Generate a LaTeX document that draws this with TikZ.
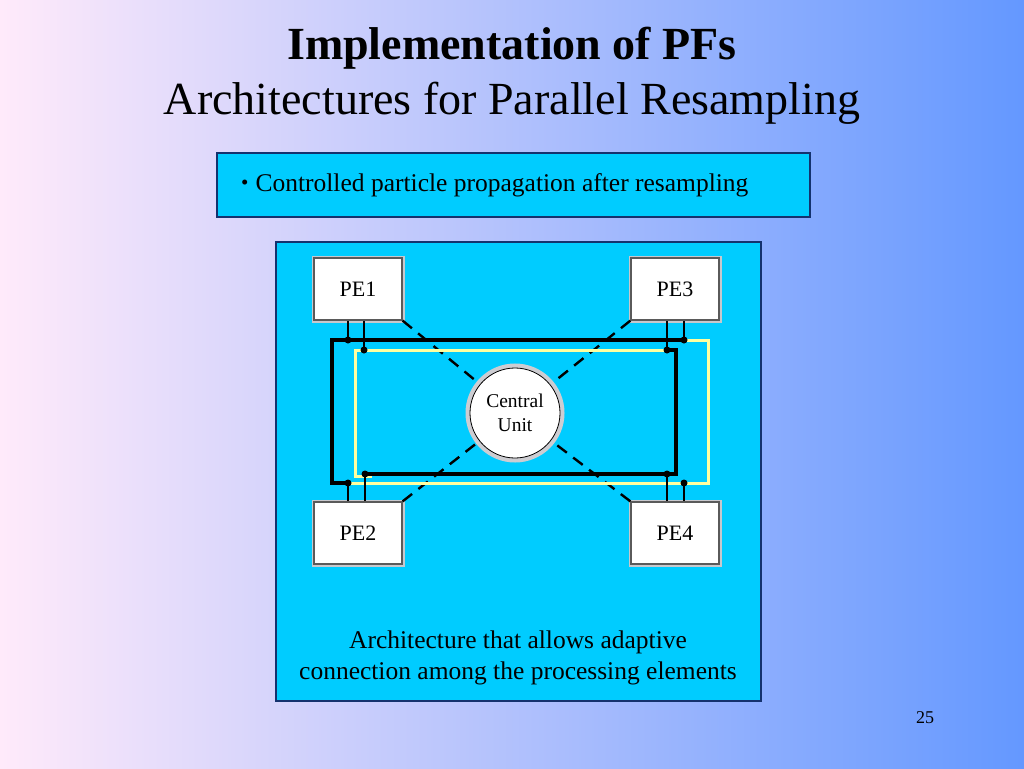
\documentclass[tikz,border=0pt]{standalone}
\usepackage{fontspec}
\setmainfont{Liberation Serif}
\begin{document}
\begin{tikzpicture}[x=1pt,y=-1pt,
  cyanbox/.style={draw={rgb,255:red,20;green,50;blue,110},fill={rgb,255:red,0;green,204;blue,255},inner sep=0pt},
  pebox/.style={draw={rgb,255:red,90;green,90;blue,90},line width=1.3pt,fill=white,
     preaction={draw={rgb,255:red,200;green,200;blue,205},line width=5pt},
     minimum width=88pt,minimum height=62pt,inner sep=0pt,font=\fontsize{22}{26}\selectfont},
  bus/.style={line width=3.2pt,line join=miter},
  ybus/.style={line width=3pt,draw={rgb,255:red,255;green,255;blue,160},line join=miter},
  pin/.style={line width=1.1pt},
  dot/.style={circle,fill=black,inner sep=0pt,minimum size=7pt},
  dashline/.style={line width=2.4pt,dash pattern=on 12pt off 8pt}]
\useasboundingbox (0,0) rectangle (1024,768);
\shade[left color={rgb,255:red,255;green,234;blue,250},middle color={rgb,255:red,184;green,212;blue,242},right color={rgb,255:red,100;green,152;blue,255}] (0,0) rectangle (1024,768);

% titles
\node[font=\fontsize{46}{52}\selectfont\bfseries] (t1) at (512,48) {Implementation of PFs};
\node[font=\fontsize{46}{52}\selectfont] (t2) at (512,103) {Architectures for Parallel Resampling};

% top box
\node[cyanbox,line width=2.5pt,minimum width=593pt,minimum height=64pt] (topbox) at (513.5,185) {};
\node[anchor=west,font=\fontsize{25.5}{30}\selectfont,inner sep=0pt] (bul) at (241,185) {\raisebox{1.5pt}{\fontsize{21}{21}\selectfont\textbullet}\hspace{7pt}Controlled particle propagation after resampling};

% big box
\node[cyanbox,line width=2pt,minimum width=485pt,minimum height=459pt] (big) at (518.5,471.5) {};

% PE boxes
\node[pebox] (pe1) at (358,289) {PE1};
\node[pebox] (pe3) at (675,289) {PE3};
\node[pebox] (pe2) at (358,533) {PE2};
\node[pebox] (pe4) at (675,533) {PE4};

% dashed lines to the central unit
\coordinate (cuc) at (515,413);
\draw[dashline,shorten >=50pt] (pe1.south east) -- (cuc);
\draw[dashline,shorten >=50pt] (pe3.south west) -- (cuc);
\draw[dashline,shorten >=50pt] (pe2.north east) -- (cuc);
\draw[dashline,shorten >=50pt] (pe4.north west) -- (cuc);

% bus coordinates
\coordinate (a1) at (348,340);
\coordinate (a3) at (684,340);
\coordinate (a2) at (348,483);
\coordinate (b1) at (364,350);
\coordinate (b3) at (667,350);
\coordinate (b4) at (667,474);
\coordinate (b2) at (365,474);
\coordinate (y4) at (684,483);

% yellow bus
\draw[ybus] (b3) -- (355,350) -- (355,476) -- (372,476);
\draw[ybus] (a3) -- (708,340) -- (708,483) -- (a2);

% black buses
\draw[bus] (a3) -- (332,340) -- (332,483) -- (a2);
\draw[bus] (b3) -- (676,350) -- (676,474) -- (b2);

% pins
\draw[pin] (a1) -- (a1 |- pe1.south);
\draw[pin] (b1) -- (b1 |- pe1.south);
\draw[pin] (b3) -- (b3 |- pe3.south);
\draw[pin] (a3) -- (a3 |- pe3.south);
\draw[pin] (a2) -- (a2 |- pe2.north);
\draw[pin] (b2) -- (b2 |- pe2.north);
\draw[pin] (b4) -- (b4 |- pe4.north);
\draw[pin] (y4) -- (y4 |- pe4.north);

% dots
\foreach \p in {a1,a3,a2,b1,b3,b4,b2,y4} \node[dot] at (\p) {};

% central unit
\node[circle,draw=black,line width=0.8pt,fill=white,minimum size=90pt,inner sep=0pt,
  preaction={draw={rgb,255:red,205;green,205;blue,210},line width=9pt},
  align=center,font=\fontsize{19.5}{24}\selectfont] (cu) at (cuc) {Central\\Unit};

% caption
\node[align=center,font=\fontsize{25.5}{31}\selectfont] (cap) at (518,658) {Architecture that allows adaptive\\connection among the processing elements};

% page number
\node[font=\fontsize{18}{22}\selectfont] (pg) at (925,718) {25};
\end{tikzpicture}
\end{document}
